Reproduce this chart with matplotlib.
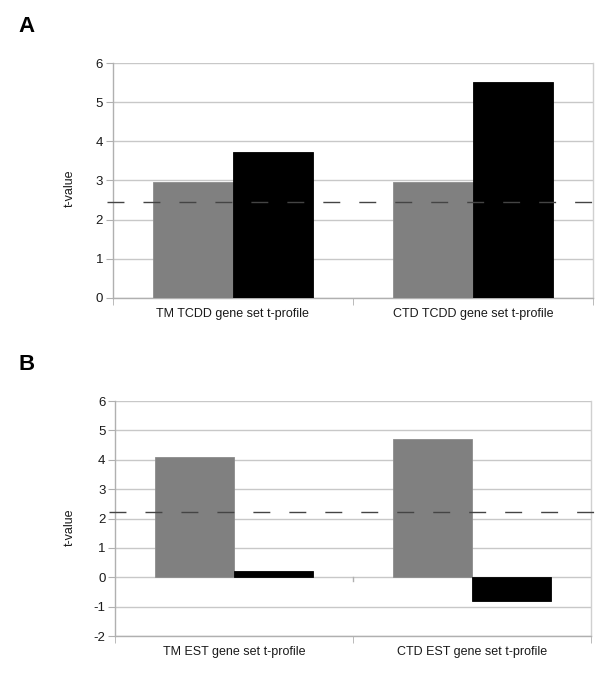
import matplotlib
matplotlib.use("Agg")
import matplotlib.pyplot as plt
import numpy as np

plt.rcParams['font.family'] = ['Liberation Sans', 'DejaVu Sans']
plt.rcParams['axes.unicode_minus'] = False

cats_a = ["TM TCDD gene set t-profile", "CTD TCDD gene set t-profile"]
gray_a = [2.97, 2.95]
black_a = [3.74, 5.51]
thresh_a = 2.44

cats_b = ["TM EST gene set t-profile", "CTD EST gene set t-profile"]
gray_b = [4.10, 4.72]
black_b = [0.21, -0.82]
thresh_b = 2.21

fig = plt.figure(figsize=(6.0, 6.85), dpi=100)
axA = fig.add_axes([0.188, 0.565, 0.800, 0.343])
axB = fig.add_axes([0.192, 0.0715, 0.793, 0.343])

def draw(ax, cats, g, b, thr, ylim, letter, letter_y, ylabel_y):
    x = np.arange(len(cats))
    w = 1/3
    ax.bar(x - w/2, g, width=w, color='#808080', edgecolor='#8c8c8c', linewidth=0.6, zorder=3)
    ax.bar(x + w/2, b, width=w, color='#000000', edgecolor='#000000', linewidth=0.6, zorder=3)
    ax.set_xlim(-0.5, len(cats) - 0.5)
    ax.set_ylim(*ylim)
    ax.set_yticks(np.arange(ylim[0], ylim[1] + 1, 1))
    ax.yaxis.grid(True, color='#c8c8c8', linewidth=1.0, zorder=0)
    ax.set_axisbelow(True)
    ax.set_xticks(x)
    ax.set_xticklabels(cats, fontsize=9, color='#1a1a1a')
    ax.set_xticks(np.arange(-0.5, len(cats), 1), minor=True)
    ax.tick_params(axis='x', which='major', length=0, pad=7)
    ax.tick_params(axis='x', which='minor', length=5, color='#b0b0b0', direction='out')
    ax.tick_params(axis='y', length=5, color='#b0b0b0', labelsize=9.5, labelcolor='#1a1a1a', pad=2)
    for s in ['left', 'bottom', 'right']:
        ax.spines[s].set_color('#b0b0b0')
        ax.spines[s].set_linewidth(1.0)
    ax.spines['right'].set_color('#d0d0d0')
    ax.spines['top'].set_visible(False)
    ax.set_ylabel('t-value', fontsize=9, color='#1a1a1a')
    ax.yaxis.set_label_coords(76/600, 1 - ylabel_y/685, transform=fig.transFigure)
    ax.plot([-0.013, 1.03], [thr, thr], transform=ax.get_yaxis_transform(),
            color='#444444', linewidth=1.0, dashes=(12.2, 13.7), clip_on=False, zorder=5)
    fig.text(18/600, 1 - letter_y/685, letter, fontsize=16, fontweight='bold',
             ha='left', va='center')

draw(axA, cats_a, gray_a, black_a, thresh_a, (0, 6), 'A', 26, 188)
draw(axB, cats_b, gray_b, black_b, thresh_b, (-2, 6), 'B', 365, 527)

# small tick at the middle of the zero line in panel B
axB.plot([0.5, 0.5], [0, -0.12], color='#b0b0b0', linewidth=1.0, zorder=2)

fig.savefig('out.png', dpi=100)
